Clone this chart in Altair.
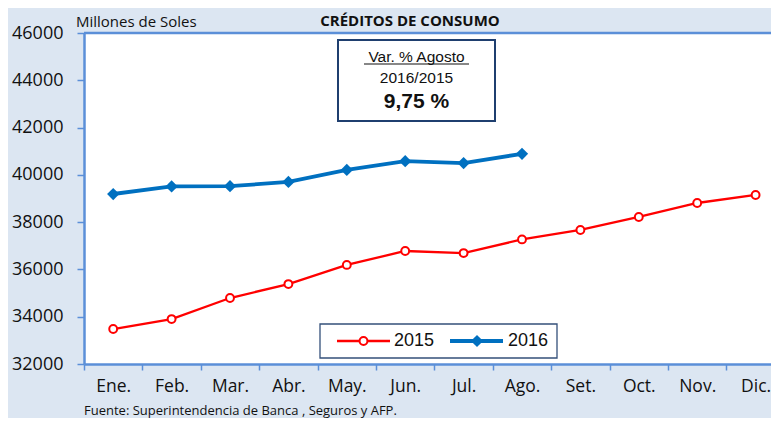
import altair as alt
import pandas as pd

months = ["Ene.", "Feb.", "Mar.", "Abr.", "May.", "Jun.", "Jul.", "Ago.", "Set.", "Oct.", "Nov.", "Dic."]
values_2015 = [33480, 33900, 34790, 35380, 36190, 36780, 36690, 37270, 37670, 38220, 38810, 39150]
values_2016 = [39190, 39510, 39520, 39700, 40210, 40580, 40500, 40890]
y_ticks = [32000, 34000, 36000, 38000, 40000, 42000, 44000, 46000]

FONT = "Open Sans"
BLUE_AX = "#5b8fd8"
RED = "#ff0000"
BLUE = "#0070c0"

rows = []
for i, v in enumerate(values_2015):
    rows.append({"idx": i + 1, "mes": months[i], "valor": v, "serie": "2015"})
for i, v in enumerate(values_2016):
    rows.append({"idx": i + 1, "mes": months[i], "valor": v, "serie": "2016"})
df = pd.DataFrame(rows)
d15 = df[df.serie == "2015"]
d16 = df[df.serie == "2016"]

W, H = 687, 331
UNIT = 58.4
tick_pos = [i + 0.5 for i in range(12)]
label_expr = "[" + ",".join("'" + m + "'" for m in months) + "][floor(datum.value)]"

x_enc = alt.X(
    "idx:Q",
    scale=alt.Scale(domain=[0.5, 0.5 + W / UNIT], nice=False, zero=False),
    axis=alt.Axis(
        values=tick_pos, labelExpr=label_expr, labelOffset=UNIT / 2, title=None,
        grid=False, tickSize=6, tickColor=BLUE_AX, tickWidth=1.5,
        domainColor=BLUE_AX, domainWidth=2.5, labelFont=FONT, labelFontSize=17.5,
        labelColor="#111111", labelPadding=7, labelOverlap=False, labelBound=False,
        labelFlush=False,
    ),
)
y_enc = alt.Y(
    "valor:Q",
    scale=alt.Scale(domain=[32000, 46000], nice=False, zero=False),
    axis=alt.Axis(
        values=y_ticks, format="d", title=None, grid=False, tickSize=7,
        tickColor=BLUE_AX, tickWidth=1.5, domainColor=BLUE_AX, domainWidth=2.5,
        labelFont=FONT, labelFontSize=18, labelColor="#111111", labelPadding=14,
    ),
)

line15 = alt.Chart(d15).mark_line(color=RED, strokeWidth=2.3).encode(x=x_enc, y=y_enc)
pts15 = alt.Chart(d15).mark_point(shape="circle", size=62, filled=True, fill="white",
                                  stroke=RED, strokeWidth=2, opacity=1).encode(x="idx:Q", y="valor:Q")
line16 = alt.Chart(d16).mark_line(color=BLUE, strokeWidth=3.8).encode(x="idx:Q", y="valor:Q")
pts16 = alt.Chart(d16).mark_point(shape="diamond", size=150, filled=True, color=BLUE,
                                  opacity=1).encode(x="idx:Q", y="valor:Q")

one = pd.DataFrame({"k": [0]})
base = alt.Chart(one)

top_border = base.mark_rule(color=BLUE_AX, strokeWidth=2.5).encode(
    x=alt.value(0), x2=alt.value(W), y=alt.value(0))

# annotation box
ann_box = base.mark_rect(fill="white", stroke="#1f3f6f", strokeWidth=2).encode(
    x=alt.value(254), x2=alt.value(411), y=alt.value(7), y2=alt.value(88))
ann1 = base.mark_text(text="Var. % Agosto", font="Liberation Sans", fontSize=15.5,
                      color="#111111", align="center", baseline="alphabetic").encode(
    x=alt.value(332.5), y=alt.value(29))
ann_ul = base.mark_rule(color="#111111", strokeWidth=1.2).encode(
    x=alt.value(280), x2=alt.value(385), y=alt.value(31))
ann2 = base.mark_text(text="2016/2015", font="Liberation Sans", fontSize=15.5,
                      color="#111111", align="center", baseline="middle").encode(
    x=alt.value(332.5), y=alt.value(45))
ann3 = base.mark_text(text="9,75 %", font="Liberation Sans", fontSize=21, fontWeight="bold",
                      color="#111111", align="center", baseline="middle").encode(
    x=alt.value(332.5), y=alt.value(69))

# legend
leg_box = base.mark_rect(fill="white", stroke="#34507a", strokeWidth=1.3).encode(
    x=alt.value(236), x2=alt.value(473), y=alt.value(291), y2=alt.value(325))
leg_l1 = base.mark_rule(color=RED, strokeWidth=2.5).encode(
    x=alt.value(253), x2=alt.value(306), y=alt.value(308))
leg_p1 = base.mark_point(shape="circle", size=62, filled=True, fill="white", stroke=RED,
                         strokeWidth=2, opacity=1).encode(x=alt.value(279.5), y=alt.value(308))
leg_t1 = base.mark_text(text="2015", font="Liberation Sans", fontSize=18, color="#111111",
                        align="left", baseline="middle").encode(x=alt.value(310), y=alt.value(308))
leg_l2 = base.mark_rule(color=BLUE, strokeWidth=4).encode(
    x=alt.value(366), x2=alt.value(419), y=alt.value(308))
leg_p2 = base.mark_point(shape="diamond", size=150, filled=True, color=BLUE,
                         opacity=1).encode(x=alt.value(393), y=alt.value(308))
leg_t2 = base.mark_text(text="2016", font="Liberation Sans", fontSize=18, color="#111111",
                        align="left", baseline="middle").encode(x=alt.value(424), y=alt.value(308))

# texts outside plot
unit_t = base.mark_text(text="Millones  de  Soles", font=FONT, fontSize=15, color="#111111",
                        align="left", baseline="alphabetic").encode(x=alt.value(-8), y=alt.value(-6))
title_t = base.mark_text(text="CRÉDITOS DE CONSUMO", font=FONT, fontSize=15, fontWeight="bold",
                         color="#111111", align="center", baseline="alphabetic").encode(
    x=alt.value(326), y=alt.value(-7))
src_t = base.mark_text(text="Fuente: Superintendencia de Banca , Seguros y AFP.", font=FONT,
                       fontSize=13, color="#111111", align="left", baseline="alphabetic").encode(
    x=alt.value(0), y=alt.value(382))

chart = alt.layer(
    line15, line16, pts15, pts16, top_border,
    ann_box, ann1, ann_ul, ann2, ann3,
    leg_box, leg_l1, leg_p1, leg_t1, leg_l2, leg_p2, leg_t2,
    unit_t, title_t, src_t,
).properties(
    width=W, height=H,
    autosize=alt.AutoSizeParams(type="none"),
    padding={"left": 76, "top": 25, "right": 0, "bottom": 54},
    background="#dce6f2",
).configure_view(strokeWidth=0, fill="white")

chart.save("out.html", embed_options={"renderer": "svg", "actions": False})
